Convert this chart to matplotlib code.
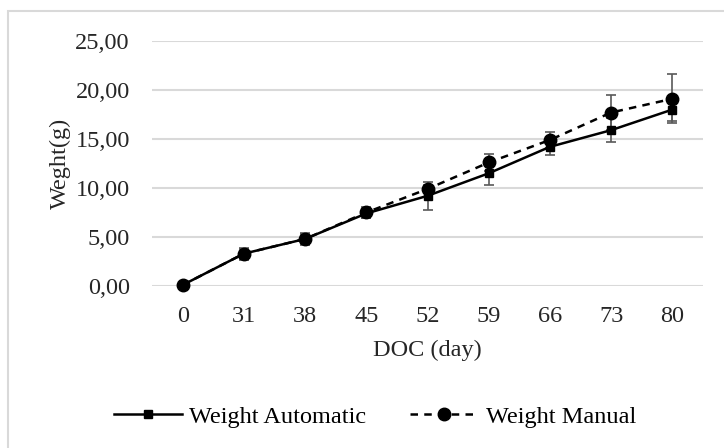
import matplotlib.pyplot as plt
import numpy as np
from matplotlib.patches import Rectangle
from matplotlib.ticker import FuncFormatter

plt.rcParams['font.family'] = ['Liberation Serif', 'DejaVu Serif']

days = ['0', '31', '38', '45', '52', '59', '66', '73', '80']
weight_auto = [0.1, 3.3, 4.8, 7.4, 9.2, 11.5, 14.2, 15.9, 18.0]
err_auto = [0.1, 0.6, 0.5, 0.5, 1.4, 1.2, 0.8, 1.2, 1.2]
weight_manual = [0.1, 3.3, 4.8, 7.5, 9.9, 12.6, 14.9, 17.7, 19.1]
err_manual = [0.1, 0.5, 0.6, 0.6, 0.4, 0.9, 0.8, 1.8, 2.5]

grid_col = '#d9d9d9'
err_col = '#595959'
txt_col = '#262626'
fs = 17.5

fig = plt.figure(figsize=(7.24, 4.48), dpi=100)
ax = fig.add_axes([0.21, 0.3616, 0.761, 0.547])

x = np.arange(len(days))

ax.errorbar(x, weight_auto, yerr=err_auto, fmt='none', ecolor=err_col,
            elinewidth=1.2, capsize=3.3, capthick=1.2, zorder=3, clip_on=False)
ax.errorbar(x, weight_manual, yerr=err_manual, fmt='none', ecolor=err_col,
            elinewidth=1.2, capsize=3.3, capthick=1.2, zorder=3, clip_on=False)
ax.plot(x, weight_auto, color='black', lw=1.8, marker='s', ms=5.5,
        label='Weight Automatic', zorder=4, clip_on=False)
ax.plot(x, weight_manual, color='black', lw=1.8, ls=(0, (3, 2.5)), marker='o',
        ms=9, label='Weight Manual', zorder=5, clip_on=False)

ax.set_xlim(-0.5, len(days) - 0.5)
ax.set_ylim(0, 25)
ax.set_yticks(np.arange(0, 26, 5))
ax.yaxis.set_major_formatter(FuncFormatter(lambda v, p: f'{v:.2f}'.replace('.', ',')))
ax.set_xticks(x)
ax.set_xticklabels(days)
ax.grid(axis='y', color=grid_col, lw=1.5)
ax.set_axisbelow(True)
for s in ax.spines.values():
    s.set_visible(False)
ax.tick_params(length=0, labelsize=fs, colors=txt_col)
ax.tick_params(axis='x', pad=14.5)
ax.tick_params(axis='y', pad=16)

ax.set_ylabel('Weght(g)', fontsize=fs, color=txt_col, labelpad=3)
ax.set_xlabel('DOC (day)', fontsize=fs, color=txt_col, labelpad=9)

fig.legend(loc='center', bbox_to_anchor=(0.518, 1 - 417 / 448), ncol=2,
           frameon=False, fontsize=fs, handlelength=2.8, columnspacing=1.8,
           handletextpad=0.3)

fig.patches.append(Rectangle((8 / 724, -0.2), 1.2, 1.2 - 11 / 448,
                             transform=fig.transFigure, fill=False,
                             edgecolor=grid_col, lw=1.5))

fig.savefig('out.png', dpi=100)
